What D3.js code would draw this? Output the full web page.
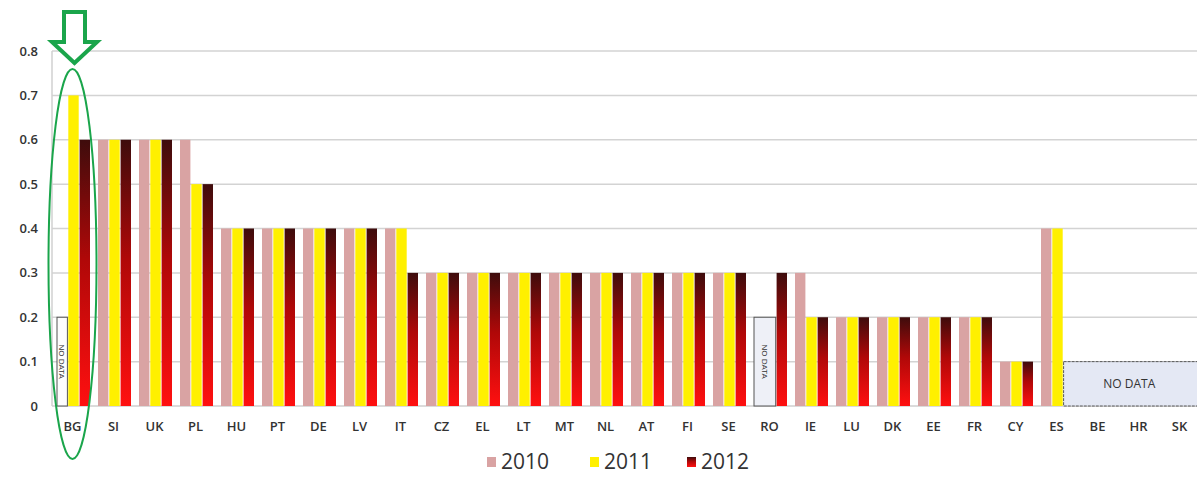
<!DOCTYPE html>
<html>
<head>
<meta charset="utf-8">
<script src="https://cdn.jsdelivr.net/npm/d3@7"></script>
<style>
  body { margin: 0; background: #fff; }
  svg { display: block; }
</style>
</head>
<body>
<div id="chart"></div>
<script>
// values (null = no bar)
var countries = ["BG","SI","UK","PL","HU","PT","DE","LV","IT","CZ","EL","LT","MT","NL","AT","FI","SE","RO","IE","LU","DK","EE","FR","CY","ES","BE","HR","SK"];
var years = ["2010", "2011", "2012"];
var v2010 = [null,0.6,0.6,0.6,0.4,0.4,0.4,0.4,0.4,0.3,0.3,0.3,0.3,0.3,0.3,0.3,0.3,null,0.3,0.2,0.2,0.2,0.2,0.1,0.4,null,null,null];
var v2011 = [0.7,0.6,0.6,0.5,0.4,0.4,0.4,0.4,0.4,0.3,0.3,0.3,0.3,0.3,0.3,0.3,0.3,null,0.2,0.2,0.2,0.2,0.2,0.1,0.4,null,null,null];
var v2012 = [0.6,0.6,0.6,0.5,0.4,0.4,0.4,0.4,0.3,0.3,0.3,0.3,0.3,0.3,0.3,0.3,0.3,0.3,0.2,0.2,0.2,0.2,0.2,0.1,null,null,null,null];
var yTicks = [0, 0.1, 0.2, 0.3, 0.4, 0.5, 0.6, 0.7, 0.8];
// "no data" placeholders: first country/year to last country/year, drawn up to value
var noData = [
  { from: ["BG","2010"], to: ["BG","2010"], value: 0.2, vertical: true },
  { from: ["RO","2010"], to: ["RO","2011"], value: 0.2, vertical: true },
  { from: ["ES","2012"], to: ["SK","2012"], value: 0.1, vertical: false }
];

var width = 1197, height = 477;
var svg = d3.select("#chart").append("svg")
    .attr("width", width)
    .attr("height", height);

var x = d3.scaleBand().domain(countries).range([52, 1200]);
var x1 = d3.scaleBand().domain(years).range([5, 38]).paddingInner(0.08);
var y = d3.scaleLinear().domain([0, 0.8]).range([406, 51]);

var colors = { "2010": "#d9a3a3", "2011": "#fff000", "2012": "url(#g2012)" };

var defs = svg.append("defs");
var grad = defs.append("linearGradient")
    .attr("id", "g2012")
    .attr("x1", 0).attr("y1", 0).attr("x2", 0).attr("y2", 1);
grad.append("stop").attr("offset", "0%").attr("stop-color", "#3e0c0c");
grad.append("stop").attr("offset", "45%").attr("stop-color", "#b00808");
grad.append("stop").attr("offset", "100%").attr("stop-color", "#ff1010");

// gridlines
svg.append("g")
  .selectAll("line")
  .data(yTicks.slice(1))
  .join("line")
    .attr("x1", 52).attr("x2", width)
    .attr("y1", d => y(d)).attr("y2", d => y(d))
    .attr("stroke", "#d3d3d3")
    .attr("stroke-width", 1.5);

svg.append("line")
    .attr("x1", 52).attr("x2", 52)
    .attr("y1", y(0.8)).attr("y2", y(0))
    .attr("stroke", "#d0d0d0").attr("stroke-width", 1.5);
svg.append("line")
    .attr("x1", 52).attr("x2", width)
    .attr("y1", y(0)).attr("y2", y(0))
    .attr("stroke", "#cfcfcf").attr("stroke-width", 1.5);

// y labels
svg.append("g")
  .selectAll("text")
  .data(yTicks)
  .join("text")
    .attr("x", 38)
    .attr("y", d => y(d))
    .attr("dy", "0.35em")
    .attr("text-anchor", "end")
    .attr("font-family", "Open Sans, sans-serif")
    .attr("font-weight", 600)
    .attr("font-size", 13)
    .attr("fill", "#333")
    .text(d => d === 0 ? "0" : d3.format(".1f")(d));

// bars
var series = { "2010": v2010, "2011": v2011, "2012": v2012 };
years.forEach(function(yr) {
  var rows = countries.map((c, i) => ({ c: c, v: series[yr][i] })).filter(d => d.v != null);
  svg.append("g")
    .selectAll("rect")
    .data(rows)
    .join("rect")
      .attr("x", d => x(d.c) + x1(yr))
      .attr("width", x1.bandwidth())
      .attr("y", d => y(d.v))
      .attr("height", d => y(0) - y(d.v))
      .attr("fill", colors[yr]);
});

// no data boxes
noData.forEach(function(nd) {
  var x0 = x(nd.from[0]) + x1(nd.from[1]);
  var xe = Math.min(x(nd.to[0]) + x1(nd.to[1]) + x1.bandwidth(), width + 2);
  if (nd.to[0] === "SK") xe = width + 2;
  var g = svg.append("g");
  g.append("rect")
    .attr("x", x0).attr("y", y(nd.value))
    .attr("width", xe - x0).attr("height", y(0) - y(nd.value))
    .attr("fill", nd.vertical ? (nd.from[0] === "BG" ? "#fdfdfd" : "#eef0f7") : "#e4e8f4")
    .attr("stroke", "#555")
    .attr("stroke-width", 1)
    .attr("stroke-dasharray", nd.vertical ? null : "3,1");
  if (nd.vertical) {
    var cx = (x0 + xe) / 2, cy = (y(nd.value) + y(0)) / 2;
    g.append("text")
      .attr("transform", "translate(" + cx + "," + cy + ") rotate(90)")
      .attr("text-anchor", "middle")
      .attr("dy", "0.35em")
      .attr("font-family", "Liberation Sans, sans-serif")
      .attr("font-size", 8)
      .attr("fill", "#333")
      .text("NO DATA");
  } else {
    g.append("text")
      .attr("x", (x0 + xe) / 2 - 2)
      .attr("y", (y(nd.value) + y(0)) / 2)
      .attr("dy", "0.35em")
      .attr("text-anchor", "middle")
      .attr("font-family", "Open Sans, sans-serif")
      .attr("font-size", 12)
      .attr("fill", "#333")
      .text("NO DATA");
  }
});

// x labels
svg.append("g")
  .selectAll("text")
  .data(countries)
  .join("text")
    .attr("x", d => x(d) + x.bandwidth() / 2)
    .attr("y", 426)
    .attr("dy", "0.35em")
    .attr("text-anchor", "middle")
    .attr("font-family", "Open Sans, sans-serif")
    .attr("font-weight", 600)
    .attr("font-size", 13)
    .attr("fill", "#333")
    .text(d => d);

// legend
var legendX = [487, 590, 687];
var lg = svg.append("g")
  .selectAll("g")
  .data(years)
  .join("g")
    .attr("transform", (d, i) => "translate(" + legendX[i] + ",462)");
lg.append("rect")
    .attr("x", 0).attr("y", -5)
    .attr("width", 9).attr("height", 10)
    .attr("fill", d => colors[d]);
lg.append("text")
    .attr("x", 14)
    .attr("dy", "0.35em")
    .attr("font-family", "Open Sans, sans-serif")
    .attr("font-size", 21)
    .attr("fill", "#333")
    .text(d => d);

// green annotation: arrow + ellipse around BG
svg.append("path")
    .attr("d", "M64,12 L85,12 L85,42 L97,42 L74.5,63 L52,42 L64,42 Z")
    .attr("fill", "#fff")
    .attr("stroke", "#1aa54b")
    .attr("stroke-width", 4)
    .attr("stroke-linejoin", "miter");
svg.append("ellipse")
    .attr("cx", x("BG") + x.bandwidth() / 2)
    .attr("cy", 264)
    .attr("rx", 24)
    .attr("ry", 195)
    .attr("fill", "none")
    .attr("stroke", "#1aa54b")
    .attr("stroke-width", 2);
</script>
</body>
</html>
